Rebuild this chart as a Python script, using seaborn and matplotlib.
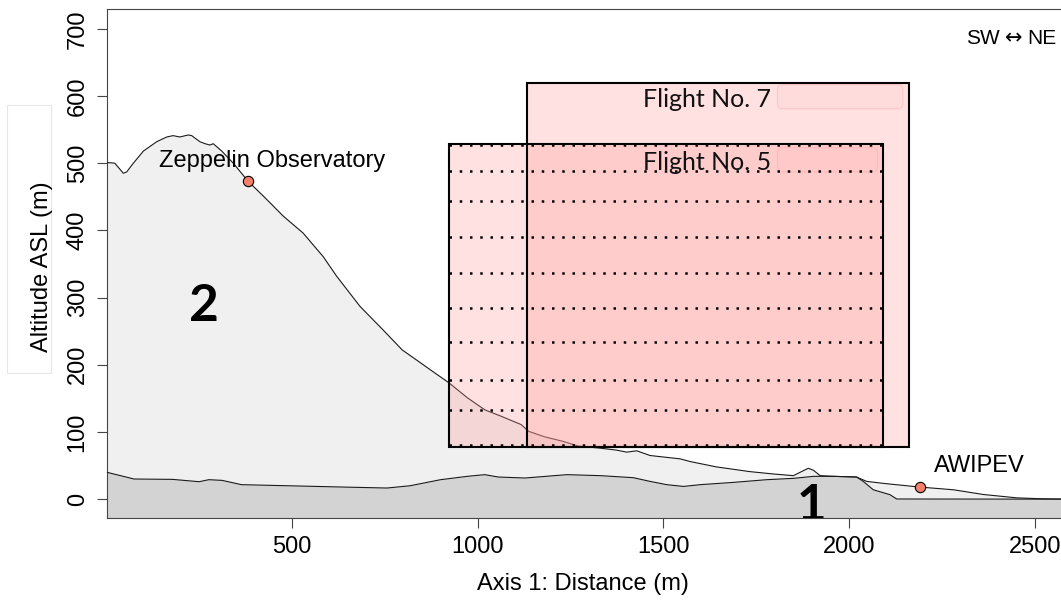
import matplotlib
matplotlib.use("Agg")
import matplotlib.pyplot as plt
from matplotlib.patches import Rectangle, FancyBboxPatch
import seaborn as sns
import numpy as np

# Terrain profile along the transect (distance in m, altitude ASL in m)
# Profile 2: ridge from Zeppelin mountain down to the shore
distance_upper = [2, 23, 46, 55, 73, 100, 136, 163, 180, 198, 221, 230, 252, 266,
                  279, 288, 311, 342, 382, 423, 477, 530, 584, 620, 683, 745, 797,
                  828, 879, 923, 972, 1019, 1065, 1117, 1137, 1179, 1230, 1271,
                  1329, 1374, 1401, 1428, 1464, 1545, 1572, 1643, 1733, 1796, 1850,
                  1868, 1890, 1904, 1922, 1957, 2020, 2047, 2101, 2191, 2281, 2361,
                  2451, 2514, 2600]
altitude_upper = [501, 500, 485, 487, 500, 518, 532, 539, 541, 539, 542, 541, 532, 529,
                  527, 529, 518, 500, 473, 451, 421, 396, 361, 332, 287, 252, 222,
                  210, 190, 173, 151, 133, 123, 111, 101, 93, 86, 79,
                  76, 73, 70, 72, 65, 60, 56, 48, 41, 37.5, 35,
                  40, 46, 43, 35, 34, 33, 26.5, 23, 18, 14, 7,
                  2, 0.7, 0]

# Profile 1: low coastal strip
distance_lower = [2, 75, 178, 250, 276, 312, 364, 488, 642, 756, 818, 900, 972, 1019,
                  1055, 1127, 1240, 1331, 1419, 1464, 1509, 1554, 1599, 1688, 1778,
                  1850, 1904, 1957, 2020, 2038, 2065, 2110, 2128, 2600]
altitude_lower = [40, 30, 29.5, 26, 29, 28, 21.6, 20, 18, 16.6, 20, 29, 34, 36.5,
                  33, 31.5, 36.5, 35, 32, 26.5, 21.6, 19, 21.6, 25, 29,
                  31, 34, 34, 33, 26.5, 14, 6.7, 0.3, 0]

# Flight envelopes
flight_names = ["Flight No. 5", "Flight No. 7"]
flight_x_start = [923, 1132]
flight_x_end = [2092, 2160]
flight_alt_min = [77, 77]
flight_alt_max = [529, 619]
flight_label_x = [1617, 1617]
flight_label_alt = [490, 584]

# Horizontal legs flown during flight 5
flight5_leg_altitudes = [81, 133, 177, 234, 284, 337, 390, 443, 489, 527]

# Measurement stations
station_names = ["Zeppelin Observatory", "AWIPEV"]
station_x = [382, 2191]
station_alt = [473, 18]

# Region numbers (anchored at the top of the glyph)
region_names = ["2", "1"]
region_x = [264, 1900]
region_alt = [322, 24.5]

x_ticks = [500, 1000, 1500, 2000, 2500]
y_ticks = [0, 100, 200, 300, 400, 500, 600, 700]

sns.set_theme(style="ticks")
plt.rcParams["font.family"] = ["Liberation Sans", "DejaVu Sans"]
plt.rcParams["text.color"] = "black"

W, H = 1061, 601
fig = plt.figure(figsize=(W / 100, H / 100), dpi=100)
ax = fig.add_axes([107 / W, (H - 518) / H, (1072 - 107) / W, (518 - 9.3) / H])
ax.set_xlim(2, 2600)
ax.set_ylim(-28, 729)

# terrain fills
ax.fill_between(distance_upper, -100, altitude_upper, color="#f0f0f0", lw=0, zorder=1)
ax.fill_between(distance_lower, -100, altitude_lower, color="#d3d3d3", lw=0, zorder=2)
sns.lineplot(x=distance_upper, y=altitude_upper, ax=ax, color="#1a1a1a", lw=0.8,
             sort=False, estimator=None, zorder=3)
sns.lineplot(x=distance_lower, y=altitude_lower, ax=ax, color="#1a1a1a", lw=0.8,
             sort=False, estimator=None, zorder=3)

# flight boxes: translucent fills first, outlines on top
fill_rgba = (1.0, 0.6, 0.6, 0.29)
for x0, x1, a0, a1 in zip(flight_x_start, flight_x_end, flight_alt_min, flight_alt_max):
    ax.add_patch(Rectangle((x0, a0), x1 - x0, a1 - a0, facecolor=fill_rgba,
                           edgecolor="none", zorder=4))
for x0, x1, a0, a1 in zip(flight_x_start, flight_x_end, flight_alt_min, flight_alt_max):
    ax.add_patch(Rectangle((x0, a0), x1 - x0, a1 - a0, facecolor="none",
                           edgecolor="black", lw=1.5, zorder=6))

# flight 5 legs
ax.hlines(flight5_leg_altitudes, flight_x_start[0], flight_x_end[0], colors="black",
          lw=1.8, linestyles=[(0, (1, 3.1))], zorder=7)

# flight labels with their tag boxes
for name, lx, la, x1 in zip(flight_names, flight_label_x, flight_label_alt, flight_x_end):
    ax.add_patch(FancyBboxPatch((lx + 190, la - 3), (x1 - 15) - (lx + 190), 36,
                                boxstyle="round,pad=0,rounding_size=10",
                                facecolor=(1.0, 0.6, 0.6, 0.06),
                                edgecolor=(1.0, 0.6, 0.6, 0.35), lw=0.8,
                                mutation_aspect=1, zorder=5))
    ax.text(lx, la, name, ha="center", va="baseline", fontsize=18,
            family=["Lato", "DejaVu Sans"], color="#111111", zorder=8)

# stations
sns.scatterplot(x=station_x, y=station_alt, ax=ax, color="#f4806c", edgecolor="black",
                linewidth=0.8, s=55, zorder=9)
for name, sx, sa, off in zip(station_names, station_x, station_alt,
                             [(17, 14.4), (42.5, 15.3)]):
    ax.annotate(name, (sx, sa), xytext=off, textcoords="offset points",
                ha="center", va="center", fontsize=17, color="black", zorder=9)

# region numbers
for name, rx, ra in zip(region_names, region_x, region_alt):
    ax.text(rx, ra, name, ha="center", va="top", fontsize=37, fontweight="bold",
            family=["Lato", "DejaVu Sans"], color="black", zorder=8, clip_on=True)

# orientation note
ax.annotate("SW", (2565, 686), xytext=(-42.5, 0), textcoords="offset points",
            ha="right", va="center", fontsize=15, color="black", zorder=8)
ax.annotate("\u2194", (2565, 686), xytext=(-32.8, 0), textcoords="offset points",
            ha="center", va="center", fontsize=15, color="black",
            family=["DejaVu Sans"], zorder=8)
ax.annotate("NE", (2565, 686), xytext=(-23, 0), textcoords="offset points",
            ha="left", va="center", fontsize=15, color="black", zorder=8)

# axes styling
ax.set_xticks(x_ticks)
ax.set_xticklabels([str(t) for t in x_ticks])
ax.set_yticks(y_ticks)
ax.set_yticklabels([str(t) for t in y_ticks], rotation=90, va="center")
ax.tick_params(axis="both", direction="out", length=7.2, width=0.8, color="#444444",
               labelsize=17, labelcolor="black", pad=6)
for side in ["top", "left", "bottom", "right"]:
    ax.spines[side].set_color("#444444")
    ax.spines[side].set_linewidth(0.8)
ax.set_xlabel("")
ax.set_ylabel("")

fig.text(583 / W, 1 - 584 / H, "Axis 1: Distance (m)", ha="center", va="center",
         fontsize=17)
fig.add_artist(Rectangle((7 / W, 1 - 373 / H), 44 / W, 268 / H,
                         transform=fig.transFigure, facecolor="white",
                         edgecolor="#e6e6e6", lw=0.8, zorder=0))
fig.text(42 / W, 1 - 267 / H, "Altitude ASL (m)", ha="center", va="center",
         rotation=90, fontsize=17, zorder=2)

fig.savefig("out.png", dpi=100)
